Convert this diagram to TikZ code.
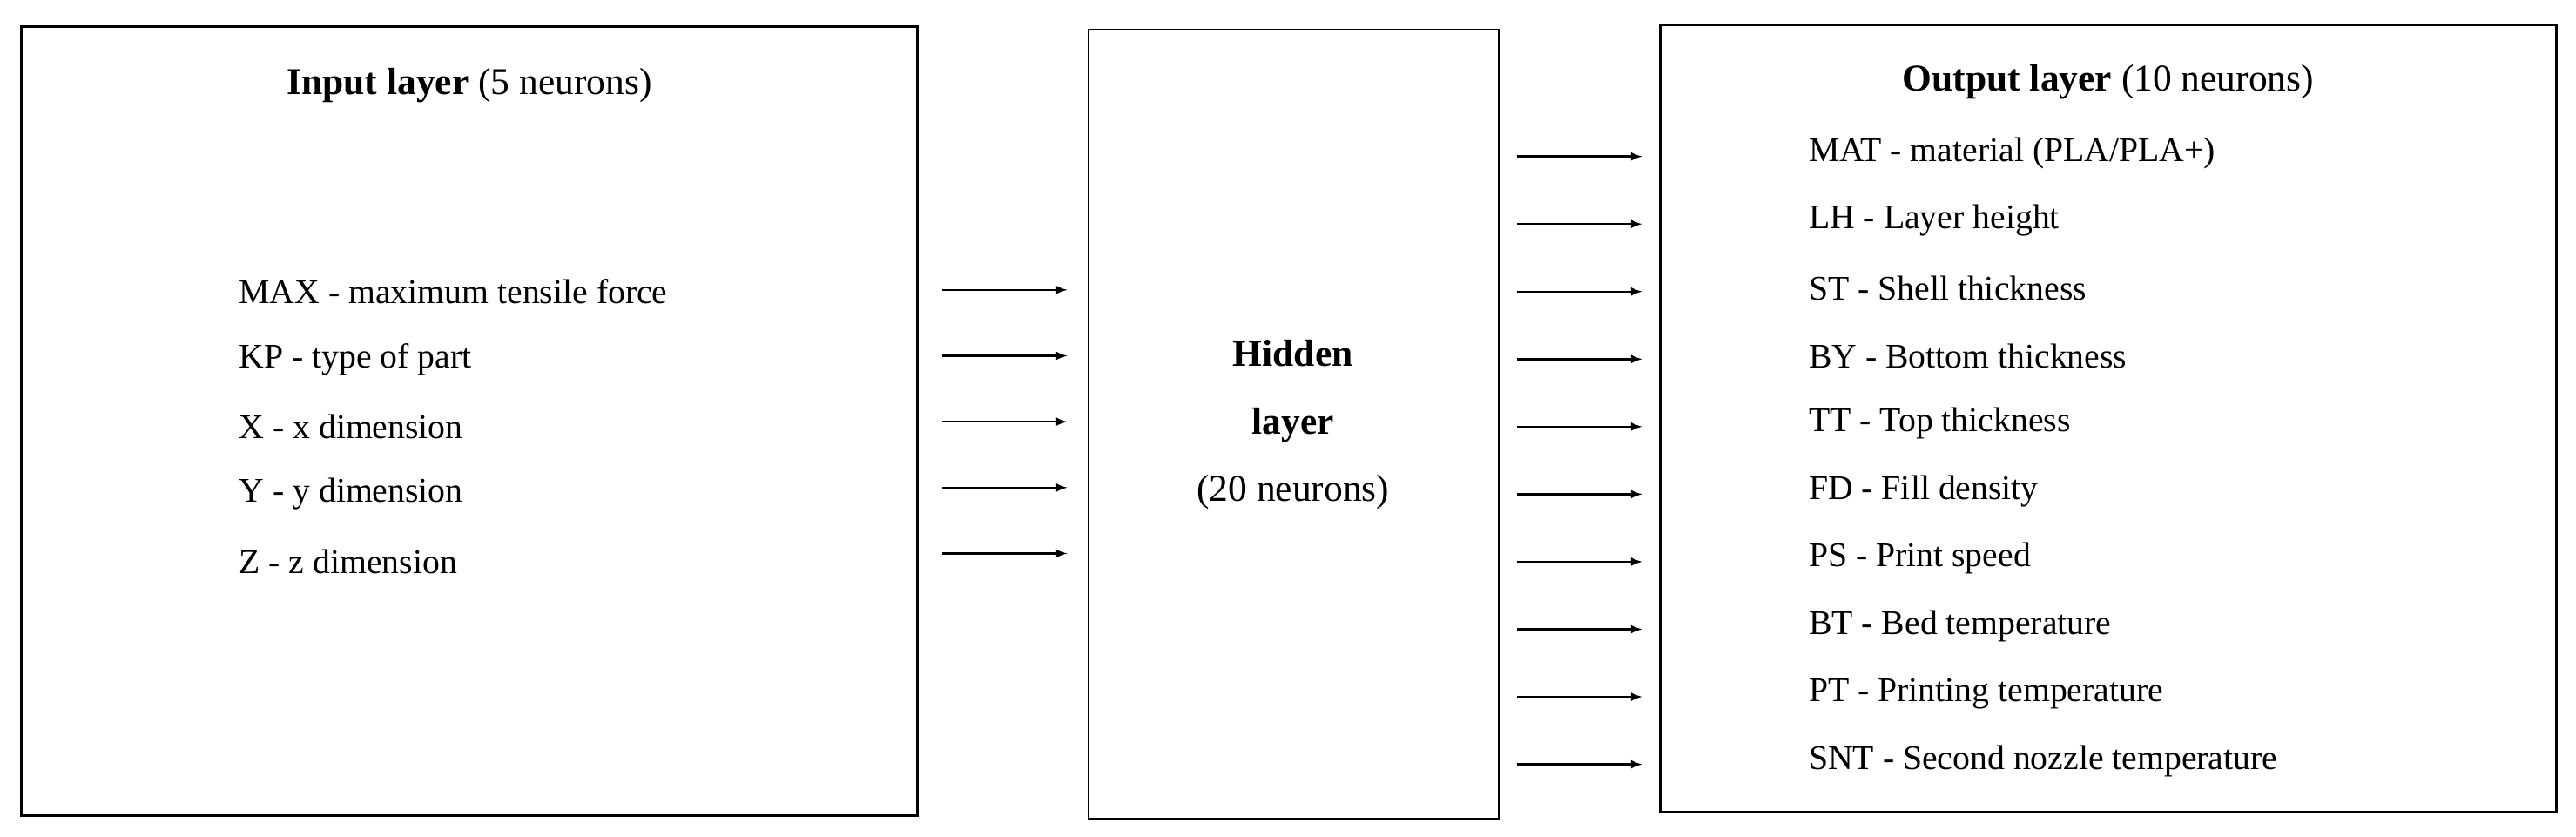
\documentclass[tikz,border=0pt]{standalone}
\usepackage{fontspec}
\setmainfont{Liberation Serif}
\begin{document}
\begin{tikzpicture}[x=1pt,y=-1pt,
  box/.style={draw,line width=1.4pt},
  txt/.style={anchor=west,inner sep=0pt,font=\fontsize{21}{25}\selectfont},
  arr/.style={-latex,line width=1.3pt}]
\useasboundingbox (0,0) rectangle (1564,508);
\draw[box] (13,16) rectangle (557,495);
\draw[box] (661,18) rectangle (910,497);
\draw[box] (1008,15) rectangle (1552,493);
\node[inner sep=0pt,font=\fontsize{23}{27}\selectfont] (ti) at (285,52) {\textbf{Input layer} (5 neurons)};
\node[inner sep=0pt,font=\fontsize{23}{27}\selectfont] (to) at (1280,50) {\textbf{Output layer} (10 neurons)};
\node[align=center,font=\fontsize{23}{41}\selectfont] (h) at (785,258) {\textbf{Hidden}\\\textbf{layer}\\(20 neurons)};
\foreach \t [count=\i] in {MAX - maximum tensile force,KP - type of part,X - x dimension,Y - y dimension,Z - z dimension}{
  \node[txt] (in\i) at (145,{136+41*\i}) {\t};
  \coordinate (ia\i) at (572,{136+40*\i});
  \coordinate (ib\i) at (648,{136+40*\i});
  \draw[arr] (ia\i) -- (ib\i);
}
\foreach \t [count=\i] in {MAT - material (PLA/PLA+),LH - Layer height,ST - Shell thickness,BY - Bottom thickness,TT - Top thickness,FD - Fill density,PS - Print speed,BT - Bed temperature,PT - Printing temperature,SNT - Second nozzle temperature}{
  \node[txt] (out\i) at (1098,{52+41*\i}) {\t};
  \coordinate (oa\i) at (921,{54+41*\i});
  \coordinate (ob\i) at (997,{54+41*\i});
  \draw[arr] (oa\i) -- (ob\i);
}
\end{tikzpicture}
\end{document}
